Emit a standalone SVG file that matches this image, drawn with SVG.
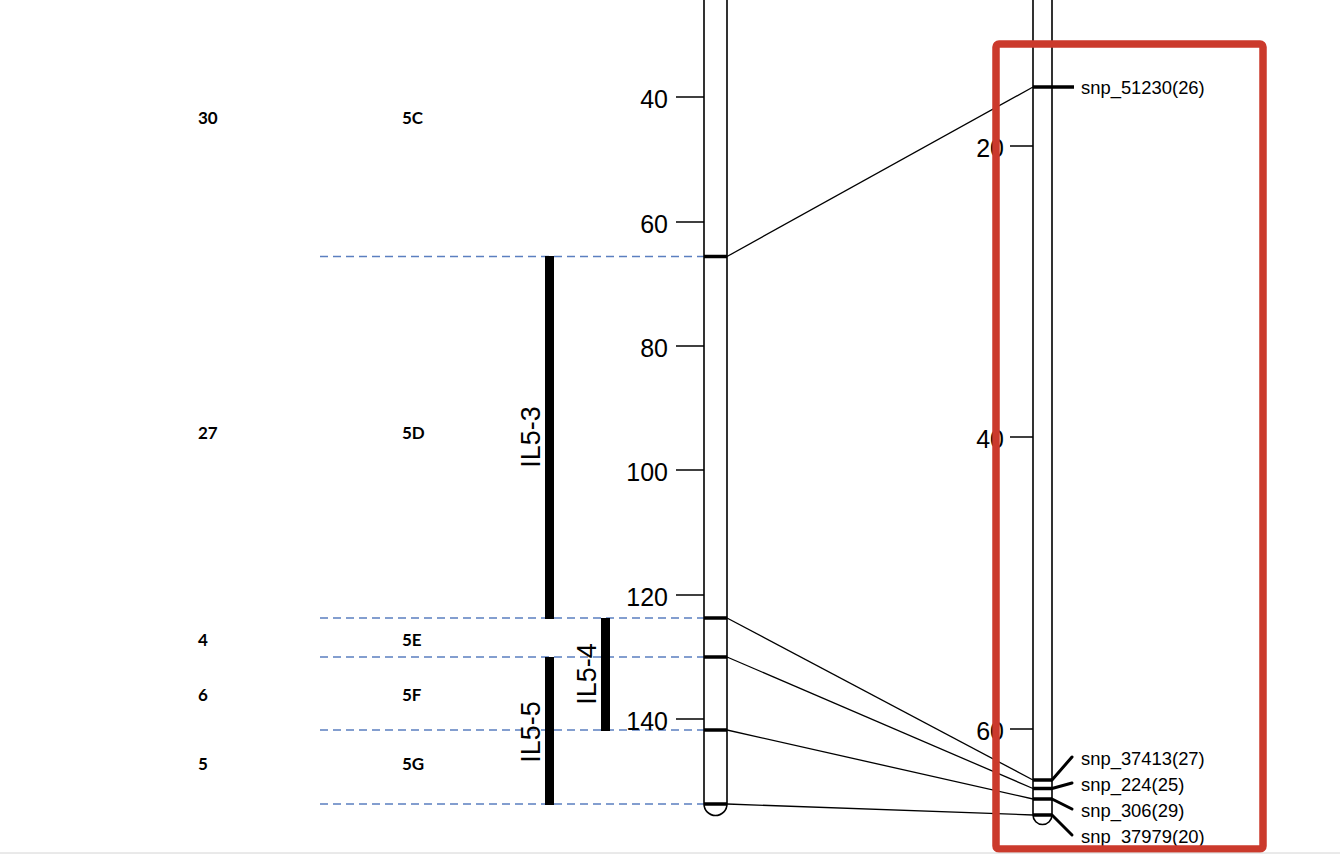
<svg xmlns="http://www.w3.org/2000/svg" width="1340" height="854" viewBox="0 0 1340 854">
<style>
.tick{stroke:#000;stroke-width:1.5;fill:none}
.chr{stroke:#000;stroke-width:1.6;fill:#fff}
.mk{stroke:#000;stroke-width:3.5}
.con{stroke:#000;stroke-width:1.3;fill:none}
.lead{stroke:#000;stroke-width:3;fill:none;stroke-linecap:round}
.dash{stroke:#5B7FC0;stroke-width:1.4;stroke-dasharray:8,5;fill:none}
.bar{fill:#000}
.ax{font-family:"Liberation Sans",Arial,sans-serif;font-size:25px;fill:#000;text-anchor:end}
.snp{font-family:"Liberation Sans",Arial,sans-serif;font-size:18.4px;fill:#000}
.il{font-family:"Liberation Sans",Arial,sans-serif;font-size:27px;fill:#000;text-anchor:middle}
.tb{font-family:Lato,"Open Sans",sans-serif;font-weight:bold;font-size:17px;fill:#000}
</style>
<rect width="1340" height="854" fill="#fff"/>

<g id="table-labels">
<text class="tb" x="198" y="124">30</text><text class="tb" x="402" y="124">5C</text>
<text class="tb" x="198" y="439">27</text><text class="tb" x="402" y="439">5D</text>
<text class="tb" x="198" y="646">4</text><text class="tb" x="402" y="646">5E</text>
<text class="tb" x="198" y="701">6</text><text class="tb" x="402" y="701">5F</text>
<text class="tb" x="198" y="770">5</text><text class="tb" x="402" y="770">5G</text>
</g>

<g id="boundaries">
<line class="dash" x1="320" y1="256.5" x2="704" y2="256.5"/>
<line class="dash" x1="320" y1="618" x2="704" y2="618"/>
<line class="dash" x1="320" y1="657" x2="704" y2="657"/>
<line class="dash" x1="320" y1="730" x2="704" y2="730"/>
<line class="dash" x1="320" y1="804" x2="704" y2="804"/>
</g>

<g id="IL5-3"><rect class="bar" x="545" y="256" width="9" height="363"/><text class="il" transform="translate(540,437) rotate(-90)">IL5-3</text></g>
<g id="IL5-4"><rect class="bar" x="601" y="618" width="9" height="113"/><text class="il" transform="translate(596,674) rotate(-90)">IL5-4</text></g>
<g id="IL5-5"><rect class="bar" x="545" y="657" width="9" height="148"/><text class="il" transform="translate(540,732) rotate(-90)">IL5-5</text></g>

<g id="chromosome-left">
<path class="chr" d="M704,-5 L704,804 A11.5,11.5 0 0 0 727,804 L727,-5"/>
<line class="tick" x1="676" y1="97" x2="704" y2="97"/><text class="ax" x="668" y="108">40</text>
<line class="tick" x1="676" y1="222" x2="704" y2="222"/><text class="ax" x="668" y="233">60</text>
<line class="tick" x1="676" y1="346" x2="704" y2="346"/><text class="ax" x="668" y="357">80</text>
<line class="tick" x1="676" y1="470" x2="704" y2="470"/><text class="ax" x="668" y="481">100</text>
<line class="tick" x1="676" y1="595" x2="704" y2="595"/><text class="ax" x="668" y="606">120</text>
<line class="tick" x1="676" y1="719" x2="704" y2="719"/><text class="ax" x="668" y="730">140</text>
<line class="mk" x1="704" y1="256.5" x2="727" y2="256.5"/>
<line class="mk" x1="704" y1="618" x2="727" y2="618"/>
<line class="mk" x1="704" y1="657" x2="727" y2="657"/>
<line class="mk" x1="704" y1="730" x2="727" y2="730"/>
<line class="mk" x1="704" y1="804" x2="727" y2="804"/>
</g>

<g id="chromosome-right">
<path class="chr" d="M1033,-5 L1033,815 A9.5,9.5 0 0 0 1052,815 L1052,-5"/>
<line class="tick" x1="1010" y1="146" x2="1033" y2="146"/><text class="ax" x="1004" y="157">20</text>
<line class="tick" x1="1010" y1="437" x2="1033" y2="437"/><text class="ax" x="1004" y="448">40</text>
<line class="tick" x1="1010" y1="729" x2="1033" y2="729"/><text class="ax" x="1004" y="740">60</text>
<line class="mk" x1="1033" y1="87" x2="1074" y2="87"/>
<line class="mk" x1="1033" y1="780" x2="1052" y2="780"/>
<line class="mk" x1="1033" y1="788.5" x2="1052" y2="788.5"/>
<line class="mk" x1="1033" y1="799" x2="1052" y2="799"/>
<line class="mk" x1="1033" y1="815" x2="1052" y2="815"/>
<path class="lead" d="M1052,780 L1072,757"/>
<path class="lead" d="M1052,788.5 L1072,783"/>
<path class="lead" d="M1052,799 L1072,809"/>
<path class="lead" d="M1052,815 L1072,835"/>
<text class="snp" x="1081" y="94">snp_51230(26)</text>
<text class="snp" x="1081" y="765">snp_37413(27)</text>
<text class="snp" x="1081" y="791">snp_224(25)</text>
<text class="snp" x="1081" y="817">snp_306(29)</text>
<text class="snp" x="1081" y="843">snp_37979(20)</text>
</g>

<g id="connectors">
<line class="con" x1="727" y1="256.5" x2="1033" y2="87"/>
<line class="con" x1="727" y1="618" x2="1033" y2="780"/>
<line class="con" x1="727" y1="657" x2="1033" y2="788.5"/>
<line class="con" x1="727" y1="730" x2="1033" y2="799"/>
<line class="con" x1="727" y1="804" x2="1033" y2="815"/>
</g>

<g id="highlight">
<rect x="996" y="44" width="267" height="805" rx="3" fill="none" stroke="#CB3A2C" stroke-width="7.5"/>
</g>
<line x1="0" y1="853" x2="1340" y2="853" stroke="#d4d4d4" stroke-width="1"/>
</svg>
